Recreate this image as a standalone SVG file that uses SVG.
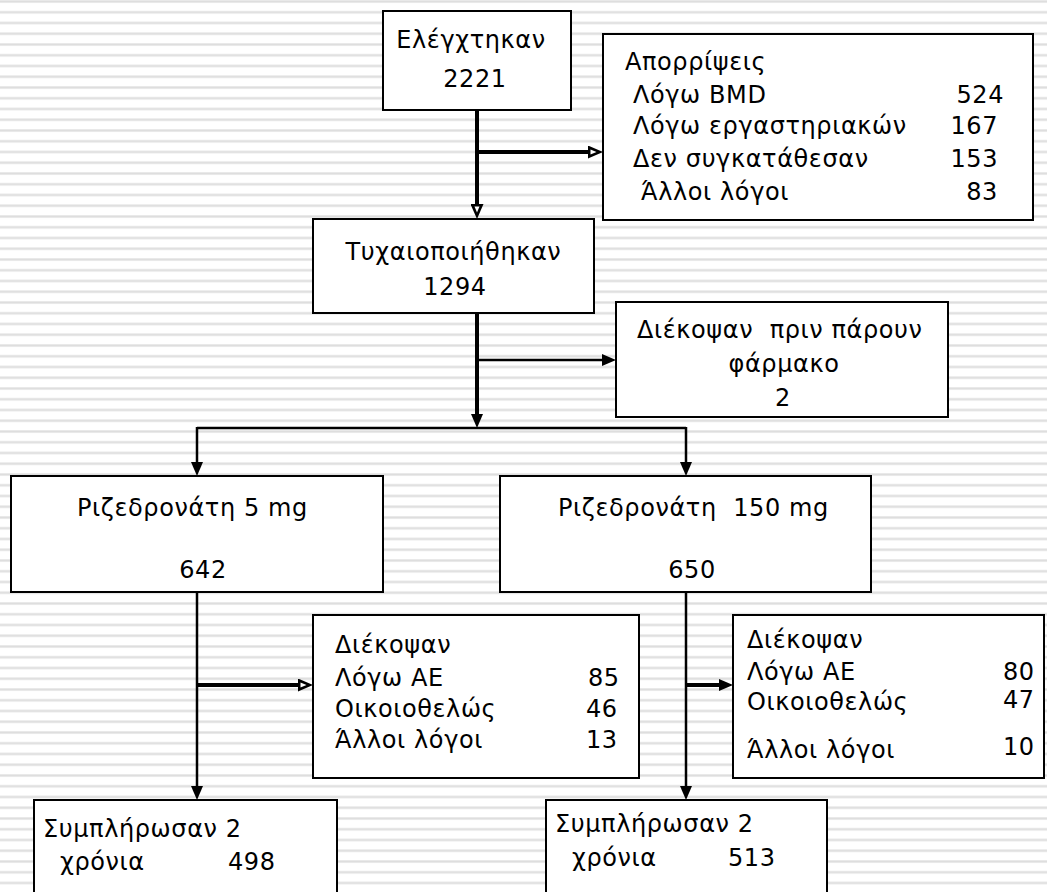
<svg xmlns="http://www.w3.org/2000/svg" width="1047" height="892" viewBox="0 0 1047 892">
<style>
.box{fill:#fff;stroke:#000;stroke-width:2}
.t{font-family:"DejaVu Sans","Noto Sans",sans-serif;font-size:24px;letter-spacing:0.6px;fill:#000}
.m{text-anchor:middle}
.e{text-anchor:end}
.thick{stroke:#000;stroke-width:4;fill:none}
.thin{stroke:#000;stroke-width:2.5;fill:none}
</style>
<defs>
<pattern id="bg" patternUnits="userSpaceOnUse" width="20" height="10.75">
<rect x="0" y="0" width="20" height="3" fill="#ececec"/>
<rect x="0" y="0.8" width="20" height="1.4" fill="#dedede"/>
</pattern>
<marker id="ah" markerUnits="userSpaceOnUse" viewBox="0 0 14 12" refX="0" refY="6" markerWidth="14" markerHeight="12" orient="auto">
<path d="M0,0 L14,6 L0,12 z" fill="#000"/>
</marker>
<marker id="aho" markerUnits="userSpaceOnUse" viewBox="0 0 15 13" refX="0" refY="6.5" markerWidth="15" markerHeight="13" orient="auto">
<path d="M0,0 L15,6.5 L0,13 z" fill="#000"/>
<path d="M2.5,4 L8.5,6.5 L2.5,9 z" fill="#fff"/>
</marker>
</defs>
<rect x="0" y="0" width="1047" height="892" fill="#fff"/>
<rect x="0" y="0" width="1047" height="892" fill="url(#bg)"/>

<g id="connectors">
<path class="thick" d="M477,110 V204" marker-end="url(#aho)"/>
<path class="thick" d="M477,152 H588" marker-end="url(#aho)"/>
<path class="thick" d="M477,313 V414" marker-end="url(#ah)"/>
<path class="thin" d="M477,360 H602" marker-end="url(#ah)"/>
<path class="thin" d="M197,428 H686"/>
<path class="thin" d="M197,427 V462" marker-end="url(#ah)"/>
<path class="thin" d="M686,427 V462" marker-end="url(#ah)"/>
<path class="thin" d="M197,592 V786" marker-end="url(#ah)"/>
<path class="thick" d="M197,685 H298" marker-end="url(#aho)"/>
<path class="thin" d="M686,592 V786" marker-end="url(#ah)"/>
<path class="thick" d="M686,685 H719" marker-end="url(#ah)"/>
</g>

<g id="n-checked">
<rect class="box" x="383" y="11" width="188" height="99"/>
<text class="t m" x="471" y="48">Ελέγχτηκαν</text>
<text class="t m" x="475" y="87">2221</text>
</g>

<g id="n-rejected">
<rect class="box" x="603" y="34" width="430" height="186"/>
<text class="t" x="625" y="70">Απορρίψεις</text>
<text class="t" x="633" y="103">Λόγω BMD</text>
<text class="t" x="633" y="134">Λόγω εργαστηριακών</text>
<text class="t" x="633" y="167">Δεν συγκατάθεσαν</text>
<text class="t" x="641" y="200">Άλλοι λόγοι</text>
<text class="t e" x="1004" y="103">524</text>
<text class="t e" x="998" y="134">167</text>
<text class="t e" x="998" y="167">153</text>
<text class="t e" x="998" y="200">83</text>
</g>

<g id="n-randomized">
<rect class="box" x="313" y="219" width="281" height="94"/>
<text class="t m" x="453.5" y="260">Τυχαιοποιήθηκαν</text>
<text class="t m" x="455" y="295">1294</text>
</g>

<g id="n-dropped-before">
<rect class="box" x="616" y="302" width="332" height="115"/>
<text class="t" x="637" y="338" xml:space="preserve">Διέκοψαν  πριν πάρουν</text>
<text class="t m" x="784" y="372">φάρμακο</text>
<text class="t m" x="783" y="406">2</text>
</g>

<g id="n-riz5">
<rect class="box" x="11" y="476" width="372" height="116"/>
<text class="t" x="77" y="516">Ριζεδρονάτη 5 mg</text>
<text class="t m" x="203" y="578">642</text>
</g>

<g id="n-riz150">
<rect class="box" x="500" y="476" width="371" height="116"/>
<text class="t" x="558" y="516" xml:space="preserve">Ριζεδρονάτη  150 mg</text>
<text class="t m" x="692" y="578">650</text>
</g>

<g id="n-drop5">
<rect class="box" x="313" y="615" width="326" height="163"/>
<text class="t" x="335" y="653">Διέκοψαν</text>
<text class="t" x="335" y="686">Λόγω AE</text>
<text class="t" x="335" y="717">Οικοιοθελώς</text>
<text class="t" x="335" y="748">Άλλοι λόγοι</text>
<text class="t" x="588" y="686">85</text>
<text class="t" x="586" y="717">46</text>
<text class="t" x="586" y="748">13</text>
</g>

<g id="n-drop150">
<rect class="box" x="733" y="615" width="311" height="163"/>
<text class="t" x="747" y="648">Διέκοψαν</text>
<text class="t" x="747" y="680">Λόγω AE</text>
<text class="t" x="747" y="710">Οικοιοθελώς</text>
<text class="t" x="747" y="758">Άλλοι λόγοι</text>
<text class="t" x="1003" y="680">80</text>
<text class="t" x="1003" y="708">47</text>
<text class="t" x="1003" y="755">10</text>
</g>

<g id="n-done5">
<rect class="box" x="34" y="800" width="303" height="100"/>
<text class="t" x="43" y="837">Συμπλήρωσαν 2</text>
<text class="t" x="60" y="870">χρόνια</text>
<text class="t" x="228" y="870">498</text>
</g>

<g id="n-done150">
<rect class="box" x="546" y="800" width="281" height="100"/>
<text class="t" x="555" y="832">Συμπλήρωσαν 2</text>
<text class="t" x="572" y="866">χρόνια</text>
<text class="t" x="728" y="866">513</text>
</g>
</svg>
